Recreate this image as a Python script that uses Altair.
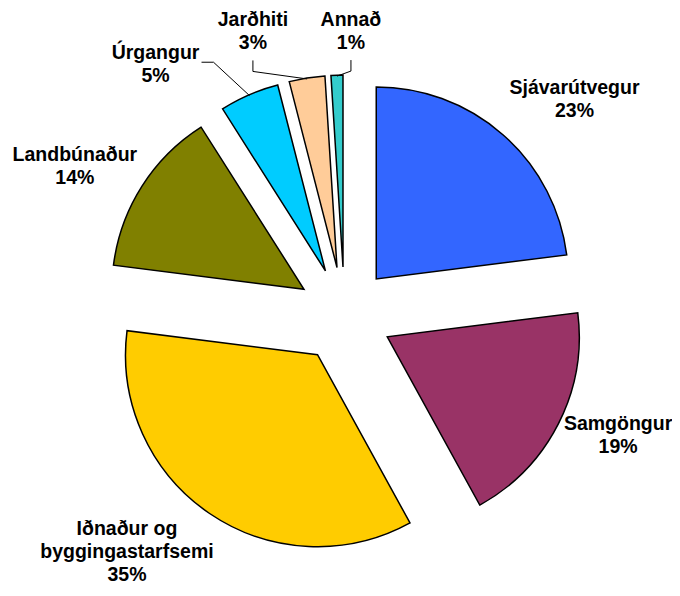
import math
import altair as alt
import pandas as pd

# ---- data ----
categories = ["Sjávarútvegur", "Samgöngur", "Iðnaður og byggingastarfsemi",
              "Landbúnaður", "Úrgangur", "Jarðhiti", "Annað"]
label_text = ["Sjávarútvegur", "Samgöngur", "Iðnaður og\nbyggingastarfsemi",
              "Landbúnaður", "Úrgangur", "Jarðhiti", "Annað"]
values = [23, 19, 35, 14, 5, 3, 1]
colors = ["#3366FF", "#993366", "#FFCC00", "#808000", "#00CCFF", "#FFCC99", "#33CCCC"]

# ---- layout (styles, not data) ----
W, H = 664, 580
CX, CY = 336.5, 307.0       # pie centre in chart pixels
R = 192                      # slice radius
EXPLODE = 48                 # slice explosion distance
LH = 23                      # label line height
label_dtheta = [5.5, -3.2, 8.3, -3.5, -13.6, -8.9, 3.1]   # degrees, label nudge
label_radius = [315, 299, 322, 308, 314, 298, 284]

df = pd.DataFrame({
    "cat": categories,
    "lab": label_text,
    "value": values,
    "order": list(range(len(values))),
    "dth": label_dtheta,
    "lr": label_radius,
})
total = sum(values)

base = alt.Chart(df).transform_window(
    cum="sum(value)", sort=[alt.SortField("order")], frame=[None, 0]
).transform_calculate(
    start="datum.cum - datum.value",
    mid=f"(datum.cum - datum.value/2)/{total}*2*PI",
    txt="datum.lab + '\\n' + datum.value + '%'",
).transform_calculate(
    nl="length(split(datum.txt, '\\n'))",
    px=f"{CX} + {EXPLODE}*sin(datum.mid)",
    py=f"{CY} - {EXPLODE}*cos(datum.mid)",
    tx=f"{CX} + datum.lr*sin(datum.mid + datum.dth*PI/180)",
).transform_calculate(
    ty=f"{CY} - datum.lr*cos(datum.mid + datum.dth*PI/180) - (datum.nl - 1)*{LH}/2",
)

slices = base.mark_arc(outerRadius=R, stroke="black", strokeWidth=1.5).encode(
    theta=alt.Theta("start:Q", scale=alt.Scale(domain=[0, total])),
    theta2="cum:Q",
    x=alt.X("px:Q", scale=None),
    y=alt.Y("py:Q", scale=None),
    color=alt.Color("cat:N", scale=alt.Scale(domain=categories, range=colors), legend=None),
)

labels = base.mark_text(
    font="Liberation Sans", fontWeight="bold", fontSize=19.5, lineHeight=LH,
    align="center", baseline="middle", lineBreak="\n", color="black",
).encode(
    x=alt.X("tx:Q", scale=None),
    y=alt.Y("ty:Q", scale=None),
    text="txt:N",
)

# ---- leader lines for the small slices ----
cum = 0
mids = []
for v in values:
    mids.append((cum + v / 2) / total * 2 * math.pi)
    cum += v
leader_style = {  # category index: (anchor dx, anchor dy, elbow dx, elbow dy)
    4: (46, -2, 12, 0),
    5: (0, 29, 0, 11),
    6: (0, 29, 0, 11),
}
rows = []
for i, (adx, ady, edx, edy) in leader_style.items():
    a = mids[i] + label_dtheta[i] * math.pi / 180
    lx = CX + label_radius[i] * math.sin(a)
    ly = CY - label_radius[i] * math.cos(a)
    ax, ay = lx + adx, ly + ady
    ex, ey = ax + edx, ay + edy
    sx = CX + (EXPLODE + R - 1) * math.sin(mids[i])
    sy = CY - (EXPLODE + R - 1) * math.cos(mids[i])
    for k, (x, y) in enumerate([(ax, ay), (ex, ey), (sx, sy)]):
        rows.append({"cat": categories[i], "k": k, "x": x, "y": y})
lead_df = pd.DataFrame(rows)

leaders = alt.Chart(lead_df).mark_line(color="black", strokeWidth=1).encode(
    x=alt.X("x:Q", scale=None),
    y=alt.Y("y:Q", scale=None),
    detail="cat:N",
    order="k:Q",
)

chart = alt.layer(slices, leaders, labels).properties(
    width=W, height=H, padding=0, autosize=alt.AutoSizeParams(type="none")
).configure_view(stroke=None)

chart.save("out.html", embed_options={"renderer": "svg", "actions": False})
